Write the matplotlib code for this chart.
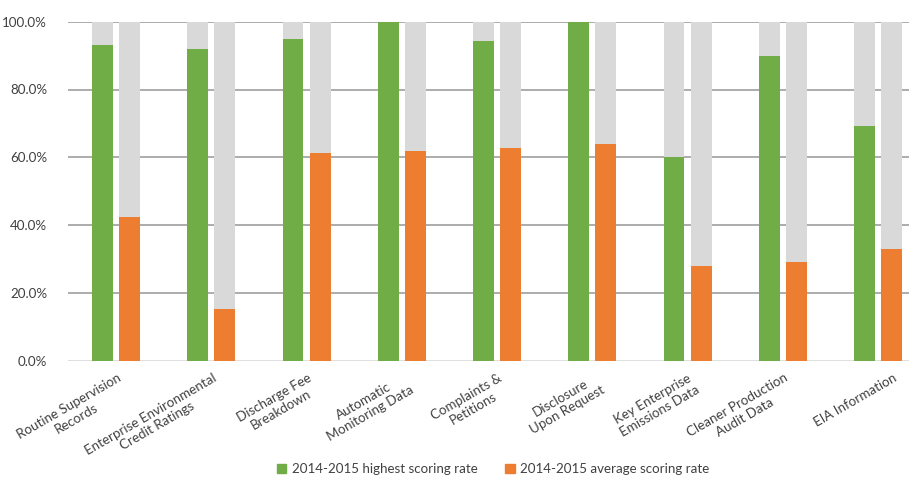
import matplotlib
matplotlib.use("Agg")
import matplotlib.pyplot as plt
import matplotlib.transforms as mtransforms
from matplotlib.patches import Patch
import numpy as np

plt.rcParams['font.family'] = ['Lato', 'DejaVu Sans']

categories = ["Routine Supervision\nRecords",
              "Enterprise Environmental\nCredit Ratings",
              "Discharge Fee\nBreakdown",
              "Automatic\nMonitoring Data",
              "Complaints &\nPetitions",
              "Disclosure\nUpon Request",
              "Key Enterprise\nEmissions Data",
              "Cleaner Production\nAudit Data",
              "EIA Information"]
highest = [93.0, 92.0, 95.0, 100.0, 94.3, 100.0, 60.0, 90.0, 69.2]
average = [42.5, 15.2, 61.2, 61.9, 62.7, 63.9, 27.9, 29.2, 32.9]
legend_labels = ["2014-2015 highest scoring rate", "2014-2015 average scoring rate"]

green = "#70AD47"
orange = "#ED7D31"
grey = "#D9D9D9"
txt = "#404040"
fs = 9.6

fig = plt.figure(figsize=(9.09, 4.79), dpi=100)
ax = fig.add_axes([68/909, 1 - 360.7/479, 1 - 68/909, (360.7 - 21.7)/479])

x = np.arange(len(categories))
off = 0.142
w = 0.22
full = np.full(len(categories), 100.0)
ax.bar(x - off, full, w, color=grey, zorder=2)
ax.bar(x + off, full, w, color=grey, zorder=2)
ax.bar(x - off, highest, w, color=green, zorder=3)
ax.bar(x + off, average, w, color=orange, zorder=3)

ax.set_xlim(-0.504, 8.325)
ax.set_ylim(0, 100)
ax.set_yticks(np.arange(0, 101, 20))
ax.set_yticklabels(["%.1f%%" % v for v in np.arange(0, 101, 20)])
ax.tick_params(axis='y', length=0, pad=15, labelsize=fs, labelcolor=txt)
ax.set_xticks([])
for s in ax.spines.values():
    s.set_visible(False)
for v in range(20, 101, 20):
    ax.axhline(v, color="#A6A6A6", lw=1.3, zorder=1)
ax.axhline(0, color="#D9D9D9", lw=1.2, zorder=1)

# rotated category labels
for i, lab in enumerate(categories):
    dx = 15 if "\n" not in lab else 1
    tr = ax.get_xaxis_transform() + mtransforms.ScaledTranslation(dx/100, -11/100, fig.dpi_scale_trans)
    ax.text(i, 0, lab, transform=tr, rotation=30, rotation_mode='anchor',
            ha='right', va='top', multialignment='center', fontsize=fs, color=txt)

handles = [Patch(color=green), Patch(color=orange)]
fig.legend(handles, legend_labels, loc='center', bbox_to_anchor=(493/909, 10/479),
           ncol=2, frameon=False, fontsize=fs, handlelength=0.7, handleheight=0.7,
           handletextpad=0.4, columnspacing=2.1, labelcolor=txt)

fig.savefig("out.png", dpi=100)
